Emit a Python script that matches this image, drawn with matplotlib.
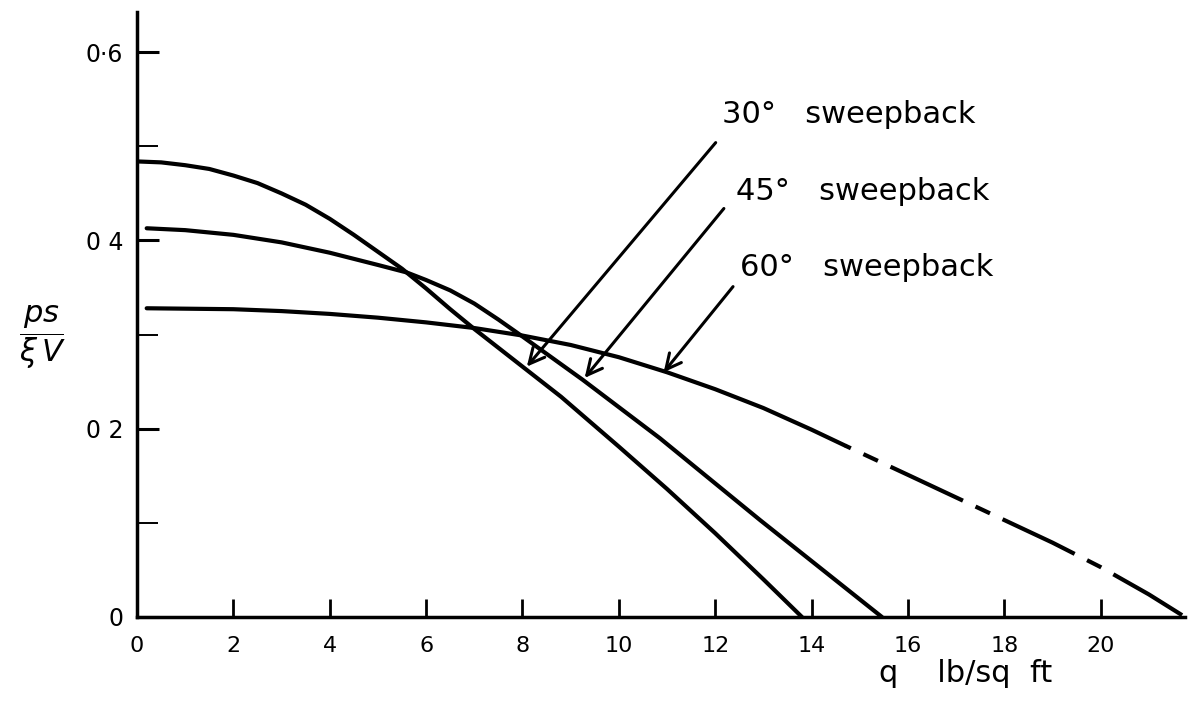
import matplotlib.pyplot as plt

# valores (q en lb/sq ft, ps/(xi V) adimensional)
q_30 = [0.0, 0.5, 1.0, 1.5, 2.0, 2.5, 3.0, 3.5, 4.0, 4.5, 5.0, 5.5, 6.0,
        6.5, 7.0, 7.5, 8.0, 8.8, 10.0, 11.0, 12.0, 13.0, 13.8]
ps_30 = [0.484, 0.483, 0.480, 0.476, 0.469, 0.461, 0.450, 0.438, 0.423,
         0.406, 0.388, 0.370, 0.349, 0.327, 0.306, 0.286, 0.266, 0.234,
         0.181, 0.136, 0.089, 0.040, 0.0]

q_45 = [0.2, 1.0, 2.0, 3.0, 4.0, 5.0, 5.6, 6.0, 6.5, 7.0, 7.5, 8.0,
        9.25, 10.85, 12.93, 15.46]
ps_45 = [0.413, 0.411, 0.406, 0.398, 0.387, 0.374, 0.366, 0.358, 0.347,
         0.333, 0.316, 0.298, 0.252, 0.190, 0.103, 0.0]

q_60 = [0.2, 2.0, 3.0, 4.0, 5.0, 6.0, 7.0, 8.0, 9.0, 10.0, 11.0, 12.0,
        13.0, 14.0, 14.7, 16.0, 17.0, 18.0, 19.0, 20.0, 21.0, 21.75]
ps_60 = [0.328, 0.327, 0.325, 0.322, 0.318, 0.313, 0.307, 0.299, 0.289,
         0.276, 0.260, 0.242, 0.222, 0.199, 0.182, 0.151, 0.127, 0.103,
         0.079, 0.053, 0.024, 0.0]
q_dashed_from = 14.7  # a partir de aqui la curva de 60 va a trazos

x_ticks = [0, 2, 4, 6, 8, 10, 12, 14, 16, 18, 20]
y_ticks = [0.0, 0.2, 0.4, 0.6]
y_tick_labels = ['0', '0 2', '0 4', '0·6']
y_minor = [0.1, 0.3, 0.5]

# etiquetas con flecha
labels = ['30°   sweepback', '45°   sweepback', '60°   sweepback']
label_q = [12.14, 12.43, 12.51]
label_ps = [0.534, 0.452, 0.371]
tail_q = [12.01, 12.18, 12.37]
tail_ps = [0.504, 0.434, 0.351]
head_q = [8.09, 9.29, 10.93]
head_ps = [0.266, 0.254, 0.260]

plt.rcParams['lines.scale_dashes'] = False

fig = plt.figure(figsize=(11.99, 7.04), dpi=100)
ax = fig.add_axes([0.1143, 0.1236, 0.874, 0.859])

lw = 3.0
ax.plot(q_30, ps_30, color='black', lw=lw, solid_capstyle='round',
        solid_joinstyle='round')
ax.plot(q_45, ps_45, color='black', lw=lw, solid_capstyle='round',
        solid_joinstyle='round')

q_sol = [q for q in q_60 if q <= q_dashed_from]
p_sol = [p for q, p in zip(q_60, ps_60) if q <= q_dashed_from]
q_das = [q for q in q_60 if q >= q_dashed_from]
p_das = [p for q, p in zip(q_60, ps_60) if q >= q_dashed_from]
ax.plot(q_sol, p_sol, color='black', lw=lw, solid_capstyle='round',
        solid_joinstyle='round')
ax.plot(q_das, p_das, color='black', lw=lw,
        linestyle=(74.7, (11.5, 10, 57.6, 10)))

for txt, lq, lp, tq, tp, hq, hp in zip(labels, label_q, label_ps,
                                       tail_q, tail_ps, head_q, head_ps):
    ax.text(lq, lp, txt, fontsize=22, ha='left', va='center')
    ax.annotate('', xy=(hq, hp), xytext=(tq, tp),
                arrowprops=dict(arrowstyle='->,head_length=0.5,head_width=0.25',
                                mutation_scale=22, lw=2.2, color='black',
                                shrinkA=0, shrinkB=0))

ax.set_xlim(0, 21.75)
ax.set_ylim(0, 0.6425)

ax.spines['top'].set_visible(False)
ax.spines['right'].set_visible(False)
ax.spines['left'].set_linewidth(2.5)
ax.spines['bottom'].set_linewidth(2.5)

ax.set_xticks(x_ticks)
ax.set_xticklabels([str(t) for t in x_ticks])
ax.set_yticks(y_ticks)
ax.set_yticklabels(y_tick_labels)
ax.set_yticks(y_minor, minor=True)

ax.tick_params(axis='x', direction='in', length=13, width=2, pad=14, labelsize=16)
ax.tick_params(axis='y', which='major', direction='in', length=16, width=2.2,
               pad=10, labelsize=17)
ax.tick_params(axis='y', which='minor', direction='in', length=15, width=1.4)

ax.set_xlabel('q    lb/sq  ft', fontsize=22)
ax.xaxis.set_label_coords(0.791, -0.07)
ax.set_ylabel(r'$\dfrac{ps}{\xi\,V}$', rotation=0, fontsize=22,
              ha='center', va='center')
ax.yaxis.set_label_coords(-0.09, 0.463)

fig.savefig('out.png', dpi=100)
